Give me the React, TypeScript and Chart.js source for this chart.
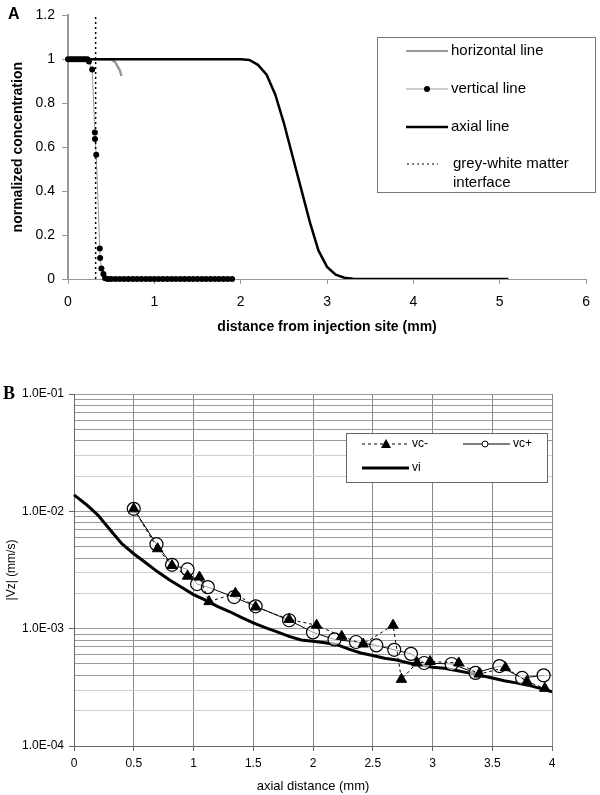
import React, { useEffect, useRef } from 'react';
import { Chart, registerables } from 'chart.js';

Chart.register(...registerables);

const FONT = "'Liberation Sans', Arial, Helvetica, sans-serif";

// ---------- Panel A data ----------
const horizontalX = [0, 0.1, 0.2, 0.3, 0.4, 0.5, 0.55, 0.6, 0.62];
const horizontalY = [1, 1, 1, 1, 1, 1, 0.985, 0.95, 0.925];

const verticalX = [
  0, 0.025, 0.05, 0.075, 0.1, 0.125, 0.15, 0.175, 0.2, 0.225, 0.243, 0.28,
  0.311, 0.313, 0.327, 0.368, 0.372, 0.387, 0.41, 0.43, 0.46, 0.5, 0.55, 0.6,
  0.65, 0.7, 0.75, 0.8, 0.85, 0.9, 0.95, 1.0, 1.05, 1.1, 1.15, 1.2, 1.25, 1.3,
  1.35, 1.4, 1.45, 1.5, 1.55, 1.6, 1.65, 1.7, 1.75, 1.8, 1.85, 1.9,
];
const verticalY = [
  1, 1, 1, 1, 1, 1, 1, 1, 1, 1, 0.99, 0.954,
  0.667, 0.637, 0.566, 0.139, 0.096, 0.048, 0.023, 0.003, 0, 0, 0, 0,
  0, 0, 0, 0, 0, 0, 0, 0, 0, 0, 0, 0, 0, 0,
  0, 0, 0, 0, 0, 0, 0, 0, 0, 0, 0, 0,
];

const axialX = [0, 0.5, 1, 1.5, 2.0, 2.1, 2.2, 2.3, 2.4, 2.5, 2.6, 2.7, 2.8, 2.9, 3.0, 3.1, 3.2, 3.3, 3.4, 4.0, 4.5, 5.1];
const axialY = [1, 1, 1, 1, 1, 0.997, 0.975, 0.93, 0.84, 0.71, 0.56, 0.41, 0.26, 0.13, 0.055, 0.02, 0.006, 0.001, 0, 0, 0, 0];

const interfaceX = [0.32, 0.32];
const interfaceY = [0, 1.2];

// ---------- Panel B data ----------
const viX = [
  0, 0.1, 0.2, 0.3, 0.4, 0.5, 0.6, 0.7, 0.8, 0.9, 1.0, 1.1, 1.2, 1.3, 1.4, 1.5,
  1.6, 1.7, 1.8, 1.9, 2.0, 2.1, 2.2, 2.3, 2.4, 2.5, 2.6, 2.7, 2.8, 2.9, 3.0,
  3.1, 3.2, 3.3, 3.4, 3.5, 3.6, 3.7, 3.8, 3.9, 4.0, 4.05,
];
const viY = [
  1.38e-2, 1.15e-2, 9.3e-3, 7.0e-3, 5.3e-3, 4.35e-3, 3.65e-3, 3.05e-3, 2.6e-3,
  2.25e-3, 1.95e-3, 1.75e-3, 1.55e-3, 1.4e-3, 1.25e-3, 1.12e-3, 1.02e-3,
  9.4e-4, 8.6e-4, 8.0e-4, 7.8e-4, 7.6e-4, 7.3e-4, 6.7e-4, 6.2e-4, 5.9e-4,
  5.6e-4, 5.4e-4, 5.1e-4, 4.9e-4, 4.7e-4, 4.6e-4, 4.4e-4, 4.2e-4, 4.0e-4,
  3.8e-4, 3.6e-4, 3.45e-4, 3.3e-4, 3.1e-4, 2.9e-4, 2.85e-4,
];

const vcPlusX = [0.5, 0.69, 0.82, 0.95, 1.03, 1.12, 1.34, 1.52, 1.8, 2.0, 2.18, 2.36, 2.53, 2.68, 2.82, 2.93, 3.16, 3.36, 3.56, 3.75, 3.93];
const vcPlusY = [1.05e-2, 5.25e-3, 3.5e-3, 3.2e-3, 2.4e-3, 2.26e-3, 1.86e-3, 1.55e-3, 1.18e-3, 9.3e-4, 8.1e-4, 7.7e-4, 7.2e-4, 6.6e-4, 6.1e-4, 5.1e-4, 5.0e-4, 4.2e-4, 4.8e-4, 3.8e-4, 4.0e-4];

const vcMinusX = [0.5, 0.7, 0.82, 0.95, 1.05, 1.13, 1.35, 1.52, 1.8, 2.03, 2.24, 2.42, 2.67, 2.74, 2.87, 2.98, 3.22, 3.39, 3.61, 3.79, 3.94];
const vcMinusY = [1.05e-2, 4.8e-3, 3.45e-3, 2.8e-3, 2.75e-3, 1.7e-3, 2.0e-3, 1.53e-3, 1.2e-3, 1.07e-3, 8.6e-4, 7.4e-4, 1.07e-3, 3.7e-4, 5.1e-4, 5.25e-4, 5.1e-4, 4.1e-4, 4.65e-4, 3.55e-4, 3.1e-4];

const logDecades = [1e-4, 1e-3, 1e-2];
const logMultipliers = [1, 2, 3, 4, 5, 6, 7, 8, 9];
const logMajorLabels = ['1.0E-04', '1.0E-03', '1.0E-02', '1.0E-01'];

const pts = (xs: number[], ys: number[]) => xs.map((x, i) => ({ x, y: ys[i] }));

const isDecade = (v: number) => Math.abs(Math.log10(v) - Math.round(Math.log10(v))) < 1e-6;
const plainNum = (v: any) => String(Math.round(Number(v) * 100) / 100);

const legendA = {
  id: 'legendA',
  afterDraw(chart: any) {
    const ctx = chart.ctx as CanvasRenderingContext2D;
    ctx.save();
    ctx.fillStyle = '#fff';
    ctx.fillRect(377, 37, 219, 155);
    ctx.strokeStyle = '#777';
    ctx.lineWidth = 1;
    ctx.strokeRect(377.5, 37.5, 218, 155);
    ctx.font = `15px ${FONT}`;
    ctx.fillStyle = '#000';
    ctx.textBaseline = 'middle';
    ctx.textAlign = 'left';
    // horizontal line
    ctx.strokeStyle = '#999';
    ctx.lineWidth = 2;
    ctx.beginPath(); ctx.moveTo(406, 51); ctx.lineTo(448, 51); ctx.stroke();
    ctx.fillText('horizontal line', 451, 51);
    // vertical line
    ctx.lineWidth = 1;
    ctx.beginPath(); ctx.moveTo(406, 89); ctx.lineTo(448, 89); ctx.stroke();
    ctx.beginPath(); ctx.arc(427, 89, 3, 0, Math.PI * 2); ctx.fill();
    ctx.fillText('vertical line', 451, 89);
    // axial line
    ctx.strokeStyle = '#000';
    ctx.lineWidth = 2.5;
    ctx.beginPath(); ctx.moveTo(406, 127); ctx.lineTo(448, 127); ctx.stroke();
    ctx.fillText('axial line', 451, 127);
    // interface
    ctx.lineWidth = 1;
    ctx.setLineDash([2, 3]);
    ctx.beginPath(); ctx.moveTo(407, 164); ctx.lineTo(438, 164); ctx.stroke();
    ctx.setLineDash([]);
    ctx.fillText('grey-white matter', 453, 164);
    ctx.fillText('interface', 453, 183);
    // panel letter
    ctx.font = `bold 16px ${FONT}`;
    ctx.fillText('A', 8, 15);
    ctx.restore();
  },
};

const legendB = {
  id: 'legendB',
  afterDraw(chart: any) {
    const ctx = chart.ctx as CanvasRenderingContext2D;
    ctx.save();
    ctx.fillStyle = '#fff';
    ctx.fillRect(346, 73, 202, 50);
    ctx.strokeStyle = '#666';
    ctx.lineWidth = 1;
    ctx.strokeRect(346.5, 73.5, 201, 49);
    ctx.font = `12px ${FONT}`;
    ctx.fillStyle = '#000';
    ctx.textBaseline = 'middle';
    ctx.textAlign = 'left';
    // vc-
    ctx.strokeStyle = '#000';
    ctx.lineWidth = 1;
    ctx.setLineDash([3, 3]);
    ctx.beginPath(); ctx.moveTo(362, 84); ctx.lineTo(408, 84); ctx.stroke();
    ctx.setLineDash([]);
    ctx.beginPath(); ctx.moveTo(386, 79); ctx.lineTo(391, 88); ctx.lineTo(381, 88); ctx.closePath(); ctx.fill();
    ctx.fillText('vc-', 412, 84);
    // vc+
    ctx.beginPath(); ctx.moveTo(463, 84); ctx.lineTo(510, 84); ctx.stroke();
    ctx.beginPath(); ctx.arc(485, 84, 3, 0, Math.PI * 2);
    ctx.fillStyle = '#fff'; ctx.fill(); ctx.stroke();
    ctx.fillStyle = '#000';
    ctx.fillText('vc+', 513, 84);
    // vi
    ctx.lineWidth = 3;
    ctx.beginPath(); ctx.moveTo(362, 108); ctx.lineTo(409, 108); ctx.stroke();
    ctx.fillText('vi', 412, 108);
    // panel letter
    ctx.font = `bold 18px 'Liberation Serif', 'Times New Roman', serif`;
    ctx.fillText('B', 3, 34);
    ctx.restore();
  },
};

export default function App() {
  const refA = useRef<HTMLCanvasElement>(null);
  const refB = useRef<HTMLCanvasElement>(null);

  useEffect(() => {
    Chart.defaults.font.family = FONT;
    Chart.defaults.color = '#000';

    const chartA = new Chart(refA.current!, {
      type: 'scatter',
      data: {
        datasets: [
          {
            label: 'grey-white matter interface',
            data: pts(interfaceX, interfaceY),
            showLine: true,
            borderColor: '#000',
            borderWidth: 1.5,
            borderDash: [2, 3],
            pointRadius: 0,
          },
          {
            label: 'vertical line',
            data: pts(verticalX, verticalY),
            showLine: true,
            borderColor: '#999',
            borderWidth: 1,
            pointRadius: 3,
            pointBackgroundColor: '#000',
            pointBorderColor: '#000',
            pointBorderWidth: 0,
            clip: false,
          },
          {
            label: 'axial line',
            data: pts(axialX, axialY),
            showLine: true,
            borderColor: '#000',
            borderWidth: 2.5,
            pointRadius: 0,
          },
          {
            label: 'horizontal line',
            data: pts(horizontalX, horizontalY),
            showLine: true,
            borderColor: '#999',
            borderWidth: 2.5,
            pointRadius: 0,
          },
        ] as any,
      },
      options: {
        responsive: false,
        animation: false,
        layout: { padding: { top: 14, right: 5, left: 0, bottom: 0 } },
        plugins: { legend: { display: false }, tooltip: { enabled: false } },
        scales: {
          x: {
            type: 'linear',
            min: 0,
            max: 6,
            ticks: { stepSize: 1, color: '#000', font: { size: 14 }, padding: 10, callback: plainNum },
            grid: { drawOnChartArea: false, tickLength: 5, color: '#999' },
            border: { color: '#999', width: 1 },
            title: {
              display: true,
              text: 'distance from injection site (mm)',
              color: '#000',
              font: { size: 14, weight: 'bold' },
              padding: { top: 0, bottom: 4 },
            },
            afterFit: (s: any) => { s.height = 61; },
          },
          y: {
            min: 0,
            max: 1.2,
            ticks: { stepSize: 0.2, color: '#000', font: { size: 14 }, padding: 7, callback: plainNum },
            grid: { drawOnChartArea: false, tickLength: 6, color: '#999' },
            border: { color: '#999', width: 2 },
            title: {
              display: true,
              text: 'normalized concentration',
              color: '#000',
              font: { size: 14, weight: 'bold' },
              padding: { top: 10, bottom: 0 },
            },
            afterFit: (s: any) => { s.width = 68; },
          },
        },
      } as any,
      plugins: [legendA],
    });

    const chartB = new Chart(refB.current!, {
      type: 'scatter',
      data: {
        datasets: [
          {
            label: 'vc-',
            data: pts(vcMinusX, vcMinusY),
            showLine: true,
            borderColor: '#000',
            borderWidth: 1,
            borderDash: [3, 3],
            pointStyle: 'triangle',
            pointRadius: 6,
            pointBackgroundColor: '#000',
            pointBorderColor: '#000',
            pointBorderWidth: 1,
          },
          {
            label: 'vc+',
            data: pts(vcPlusX, vcPlusY),
            showLine: true,
            borderColor: '#000',
            borderWidth: 1,
            pointStyle: 'circle',
            pointRadius: 6.5,
            pointBackgroundColor: 'rgba(255,255,255,0.6)',
            pointBorderColor: '#000',
            pointBorderWidth: 1.2,
          },
          {
            label: 'vi',
            data: pts(viX, viY),
            showLine: true,
            borderColor: '#000',
            borderWidth: 3,
            pointRadius: 0,
            clip: false,
          },
        ] as any,
      },
      options: {
        responsive: false,
        animation: false,
        layout: { padding: { top: 34, right: 48, left: 0, bottom: 0 } },
        plugins: { legend: { display: false }, tooltip: { enabled: false } },
        scales: {
          x: {
            type: 'linear',
            min: 0,
            max: 4,
            ticks: { stepSize: 0.5, color: '#000', font: { size: 12 }, padding: 5, callback: plainNum },
            grid: { color: '#888', tickLength: 5, tickColor: '#666' },
            border: { color: '#666', width: 1 },
            title: {
              display: true,
              text: 'axial distance (mm)',
              color: '#000',
              font: { size: 13 },
              padding: { top: 0, bottom: 1 },
            },
            afterFit: (s: any) => { s.height = 49; },
          },
          y: {
            type: 'logarithmic',
            min: 1e-4,
            max: 1e-1,
            afterBuildTicks: (s: any) => {
              const t: any[] = [];
              logDecades.forEach((d) => logMultipliers.forEach((m) => t.push({ value: +(d * m).toPrecision(6) })));
              t.push({ value: 1e-1 });
              s.ticks = t;
            },
            ticks: {
              autoSkip: false,
              color: '#000',
              font: { size: 12 },
              padding: 5,
              callback: (v: any) => {
                const n = Number(v);
                if (!isDecade(n)) return '';
                const idx = Math.round(Math.log10(n)) + 4;
                return logMajorLabels[idx];
              },
            },
            grid: {
              tickLength: 5,
              color: (c: any) => {
                const v = c.tick ? c.tick.value : 1;
                const m = Math.round(v / Math.pow(10, Math.floor(Math.log10(v) + 1e-9)));
                return m === 2 || m === 3 ? '#cfcfcf' : '#999';
              },
              tickColor: (c: any) => (c.tick && isDecade(c.tick.value) ? '#666' : 'rgba(0,0,0,0)'),
            },
            border: { color: '#666', width: 1 },
            title: {
              display: true,
              text: '|Vz| (mm/s)',
              color: '#000',
              font: { size: 12 },
              padding: { top: 4, bottom: 0 },
            },
            afterFit: (s: any) => { s.width = 74; },
          },
        },
      } as any,
      plugins: [legendB],
    });

    return () => {
      chartA.destroy();
      chartB.destroy();
    };
  }, []);

  return (
    <div style={{ position: 'absolute', left: 0, top: 0, width: 600, height: 795, background: '#fff' }}>
      <canvas ref={refA} width={600} height={340} style={{ position: 'absolute', left: 0, top: 0 }} />
      <canvas ref={refB} width={600} height={435} style={{ position: 'absolute', left: 0, top: 360 }} />
    </div>
  );
}
